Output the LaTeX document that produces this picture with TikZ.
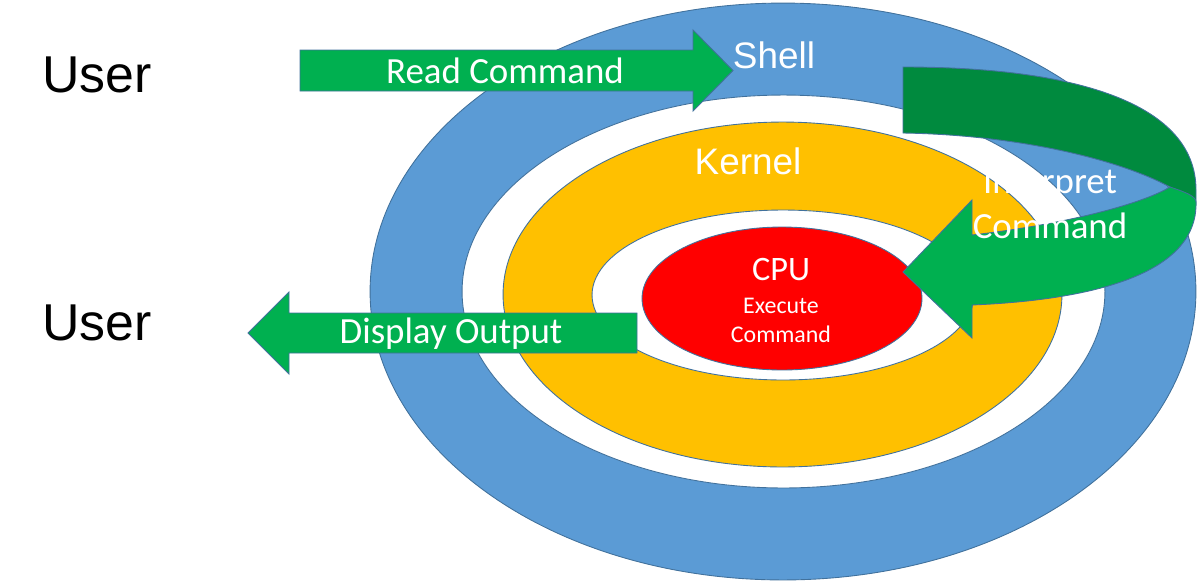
\documentclass[tikz,border=0pt]{standalone}
\usepackage{fontspec}
\setmainfont{Liberation Sans}
\newfontfamily\calibrifont{Carlito}
\usepackage{tikz}
\usetikzlibrary{shapes.geometric}
\definecolor{shellblue}{HTML}{5B9BD5}
\definecolor{kernelorange}{HTML}{FFC000}
\definecolor{arrowgreen}{HTML}{00B050}
\definecolor{arrowdark}{HTML}{008A3E}
\definecolor{rimblue}{HTML}{41719C}
\tikzset{
  ring/.style = {ellipse, draw=rimblue, line width=0.5pt, inner sep=0pt,
    outer sep=0pt},
  shell_ring/.style = {ring, fill=shellblue},
  gap_ring/.style = {ring, fill=white},
  kernel_ring/.style = {ring, fill=kernelorange},
  cpu_core/.style = {ring, fill=red},
  green_arrow/.style = {draw=rimblue, line width=0.5pt, fill=arrowgreen,
    line join=miter},
  back_arrow/.style = {green_arrow, fill=arrowdark},
  user_label/.style = {anchor=base, inner sep=0pt,
    font=\fontsize{29.5}{32}\selectfont},
  layer_label/.style = {anchor=base, inner sep=0pt, white,
    font=\fontsize{21}{24}\selectfont},
  step_label/.style = {anchor=base, inner sep=0pt, white,
    font=\calibrifont\fontsize{21}{24}\selectfont},
  cpu_label/.style = {anchor=base, inner sep=0pt, white,
    font=\calibrifont\fontsize{19.5}{22}\selectfont},
  cpu_small/.style = {anchor=base, inner sep=0pt, white,
    font=\calibrifont\fontsize{13.6}{16}\selectfont}
}
\begin{document}
\begin{tikzpicture}[x=0.02cm, y=-0.02cm]
  \useasboundingbox (0,0) rectangle (1197,583);
  % the rings
  \node (shell) [shell_ring, minimum width=16.52cm, minimum height=11.54cm] at (783,291.5) {};
  \node (shell gap) [gap_ring, minimum width=12.86cm, minimum height=7.86cm] at (783.5,291.5) {};
  \node (kernel) [kernel_ring, minimum width=11.18cm, minimum height=6.9cm] at (782.5,294.5) {};
  \node (kernel gap) [gap_ring, minimum width=7.64cm, minimum height=3.4cm] at (783,295) {};
  \node (cpu) [cpu_core, minimum width=5.6cm, minimum height=2.86cm] at (782,298.5) {};
  % straight arrows
  \draw [green_arrow] (300,50) -- (693,50) -- (693,30) -- (733,70.5)
    -- (693,111) -- (693,91) -- (300,91) -- cycle;
  \draw [green_arrow] (637,313) -- (289,313) -- (289,292) -- (248,333)
    -- (289,374) -- (289,353) -- (637,353) -- cycle;
  % curved arrow
  \draw [back_arrow] (903,67) .. controls (1080,67) and (1196,105) .. (1196,190)
    -- (1196,205) -- (1170,187) .. controls (1120,160) and (1020,135) .. (903,133) -- cycle;
  \draw [green_arrow] (972,235) .. controls (1060,225) and (1140,205) .. (1170,187)
    .. controls (1185,192) and (1196,196) .. (1196,202)
    .. controls (1198,275) and (1090,300) .. (972,305)
    -- (972,338) -- (903,272) -- (972,200) -- cycle;
  % labels
  \node (user top) [user_label] at (97,92) {User};
  \node (user bottom) [user_label] at (97,340) {User};
  \node (shell label) [layer_label] at (774,68) {Shell};
  \node (kernel label) [layer_label] at (748,174) {Kernel};
  \node (read label) [step_label] at (505,83) {Read Command};
  \node (display label) [step_label] at (451,343) {Display Output};
  \node (interpret top) [step_label] at (1050,193) {Interpret};
  \node (interpret bottom) [step_label] at (1050,238) {Command};
  \node (cpu label) [cpu_label] at (781,280) {CPU};
  \node (execute top) [cpu_small] at (781,313) {Execute};
  \node (execute bottom) [cpu_small] at (781,342) {Command};
\end{tikzpicture}
\end{document}
